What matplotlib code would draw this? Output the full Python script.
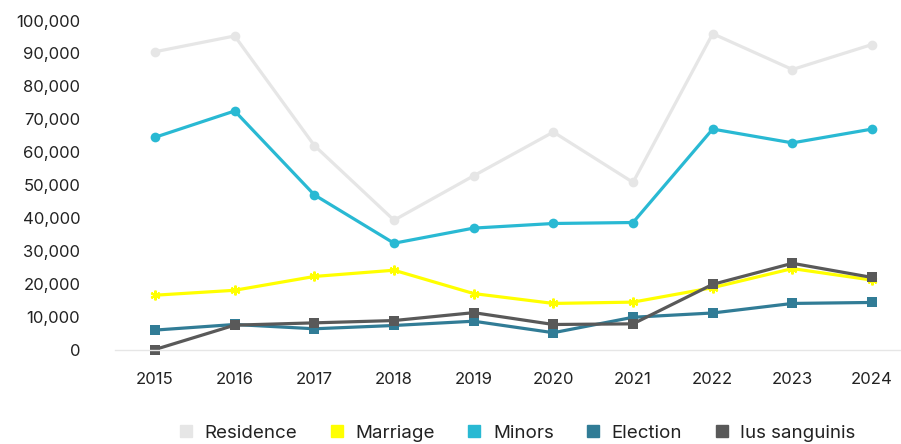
import matplotlib
matplotlib.use("Agg")
import matplotlib.pyplot as plt
from matplotlib.ticker import FuncFormatter
from matplotlib.lines import Line2D

years = ["2015", "2016", "2017", "2018", "2019", "2020", "2021", "2022", "2023", "2024"]
residence = [90500, 95300, 62000, 39300, 52800, 66100, 50800, 96000, 85100, 92700]
marriage = [16500, 18000, 22200, 24100, 17000, 14000, 14400, 18800, 24600, 21100]
minors = [64500, 72500, 47000, 32300, 36900, 38300, 38600, 67000, 62800, 67000]
election = [5900, 7600, 6300, 7300, 8600, 5100, 9800, 11100, 14000, 14300]
ius_sanguinis = [0, 7400, 8100, 8800, 11200, 7600, 7800, 19800, 26200, 21900]

# name, values, colour, marker, marker size, marker edge width
series = [
    ("Residence", residence, "#E6E6E6", "o", 7.0, 0),
    ("Marriage", marriage, "#FFFF00", (6, 2, 0), 7.0, 1.6),
    ("Minors", minors, "#29B9D3", "o", 7.0, 0),
    ("Election", election, "#317C96", "s", 7.2, 0),
    ("Ius sanguinis", ius_sanguinis, "#595959", "s", 7.2, 0),
]

plt.rcParams["font.family"] = ["Inter", "DejaVu Sans"]

W, H = 901, 444
fig = plt.figure(figsize=(W / 100, H / 100), dpi=100)
left, right, top, bottom = 115, 900, 20.5, 349.5
ax = fig.add_axes([left / W, 1 - bottom / H, (right - left) / W, (bottom - top) / H])

x = list(range(len(years)))
for name, vals, color, marker, ms, mew in series:
    ax.plot(x, vals, color=color, lw=2.3, marker=marker, markersize=ms,
            markeredgecolor=color, markerfacecolor=color, markeredgewidth=mew,
            clip_on=False, label=name)

ax.set_ylim(0, 100000)
ax.set_yticks(range(0, 100001, 10000))
ax.yaxis.set_major_formatter(FuncFormatter(lambda v, p: f"{int(v):,}"))
spacing = 79.67
ax.set_xlim(-(155 - left) / spacing, (right - 155) / spacing)
ax.set_xticks(x)
ax.set_xticklabels(years)

for s in ["top", "right", "left"]:
    ax.spines[s].set_visible(False)
ax.spines["bottom"].set_color("#E6E6E6")
ax.spines["bottom"].set_linewidth(1)
ax.tick_params(axis="both", length=0, labelsize=12, colors="#222222")
ax.tick_params(axis="y", pad=25)
ax.tick_params(axis="x", pad=16)

handles = [Line2D([0], [0], color=c, marker="s", linestyle="none", markersize=9)
           for _, _, c, _, _, _ in series]
fig.legend(handles, [s[0] for s in series], loc="center", ncol=5,
           bbox_to_anchor=(516 / W, 1 - 433 / H), frameon=False, fontsize=13.5,
           handletextpad=0.5, columnspacing=1.6, handlelength=1.0,
           labelcolor="#222222")

fig.savefig("out.png", dpi=100)
